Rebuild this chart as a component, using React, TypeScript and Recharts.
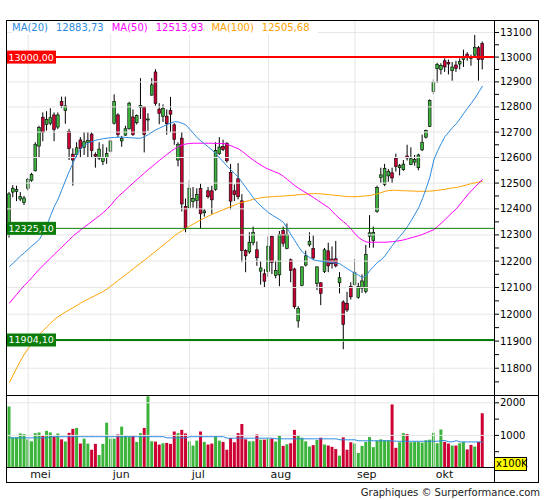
import { ComposedChart, Bar, Line, XAxis, YAxis, ReferenceLine, Cell } from 'recharts'

// daily candles, 24 apr -> 19 okt
const opens = [
  12305, 12465, 12467, 12438, 12425, 12480, 12511, 12548, 12645, 12759,
  12730, 12735, 12768, 12720, 12822, 12785, 12703, 12613, 12612, 12669,
  12640, 12660, 12692, 12612, 12597, 12585, 12600, 12625, 12735, 12768,
  12665, 12688, 12713, 12760, 12737, 12797, 12800, 12748, 12847, 12940,
  12791, 12763, 12763, 12785, 12729, 12590, 12676, 12410, 12405, 12428,
  12433, 12479, 12385, 12470, 12470, 12475, 12615, 12643, 12656, 12542,
  12470, 12517, 12431, 12240, 12235, 12270, 12243, 12162, 12152, 12160,
  12294, 12145, 12148, 12317, 12248, 12205, 12170, 11975, 12108, 12185,
  12262, 12248, 12115, 12118, 12161, 12239, 12208, 12209, 12118, 12046,
  12041, 12105, 12111, 12063, 12098, 12085, 12295, 12278, 12390, 12522,
  12495, 12528, 12540, 12597, 12560, 12552, 12606, 12572, 12582, 12560,
  12630, 12680, 12722, 12862, 12953, 12950, 12985, 12978, 12945, 12968,
  12972, 12990, 13012, 13000, 13008, 13038, 13055,
]
const highs = [
  12465, 12492, 12490, 12465, 12450, 12520, 12540, 12660, 12725, 12778,
  12783, 12795, 12778, 12778, 12841, 12841, 12713, 12636, 12660, 12680,
  12700, 12700, 12700, 12620, 12660, 12652, 12640, 12670, 12850, 12775,
  12685, 12725, 12820, 12790, 12770, 12915, 12803, 12775, 12915, 12951,
  12815, 12810, 12790, 12840, 12735, 12660, 12700, 12440, 12510, 12485,
  12480, 12498, 12400, 12485, 12490, 12660, 12680, 12670, 12660, 12575,
  12495, 12578, 12457, 12245, 12310, 12332, 12275, 12200, 12170, 12294,
  12297, 12201, 12315, 12332, 12344, 12210, 12175, 12030, 12180, 12240,
  12310, 12298, 12180, 12120, 12250, 12270, 12256, 12277, 12158, 12052,
  12084, 12120, 12208, 12118, 12150, 12262, 12376, 12332, 12490, 12560,
  12575, 12555, 12560, 12615, 12575, 12590, 12650, 12640, 12610, 12615,
  12690, 12710, 12830, 12910, 12977, 12975, 12995, 12990, 12980, 12985,
  12995, 13030, 13020, 13010, 13090, 13045, 13063,
]
const lows = [
  12290, 12445, 12430, 12430, 12415, 12472, 12505, 12545, 12600, 12664,
  12706, 12727, 12664, 12712, 12795, 12733, 12590, 12490, 12600, 12600,
  12610, 12600, 12600, 12560, 12590, 12570, 12575, 12620, 12730, 12680,
  12642, 12685, 12710, 12685, 12730, 12752, 12620, 12705, 12845, 12805,
  12731, 12740, 12690, 12700, 12650, 12565, 12390, 12310, 12398, 12405,
  12400, 12325, 12370, 12440, 12380, 12470, 12610, 12625, 12580, 12398,
  12430, 12437, 12196, 12158, 12228, 12260, 12182, 12111, 12101, 12140,
  12151, 12135, 12105, 12255, 12245, 12120, 12020, 11950, 12105, 12180,
  12255, 12205, 12090, 12034, 12155, 12158, 12172, 12176, 12078, 11870,
  12008, 12055, 12108, 12058, 12080, 12078, 12251, 12251, 12385, 12500,
  12488, 12505, 12500, 12545, 12530, 12548, 12588, 12570, 12568, 12550,
  12625, 12675, 12720, 12850, 12896, 12930, 12940, 12930, 12905, 12940,
  12950, 12960, 12985, 12965, 13000, 12905, 12950,
]
const closes = [
  12458, 12480, 12475, 12448, 12442, 12515, 12534, 12652, 12718, 12698,
  12750, 12757, 12711, 12768, 12805, 12804, 12635, 12590, 12638, 12635,
  12662, 12667, 12627, 12605, 12633, 12600, 12615, 12665, 12822, 12690,
  12675, 12713, 12815, 12690, 12765, 12806, 12691, 12752, 12888, 12814,
  12774, 12794, 12733, 12771, 12671, 12652, 12419, 12325, 12480, 12440,
  12455, 12381, 12392, 12447, 12435, 12627, 12641, 12632, 12587, 12430,
  12455, 12447, 12240, 12220, 12272, 12310, 12213, 12174, 12124, 12257,
  12195, 12165, 12302, 12268, 12302, 12165, 12028, 12022, 12178, 12220,
  12276, 12212, 12178, 12078, 12243, 12182, 12190, 12182, 12137, 11962,
  12016, 12065, 12158, 12105, 12125, 12226, 12308, 12310, 12483, 12532,
  12557, 12545, 12520, 12565, 12568, 12574, 12598, 12595, 12592, 12610,
  12660, 12706, 12826, 12900, 12971, 12966, 12960, 12972, 12960, 12955,
  12982, 12998, 13002, 12995, 13040, 12990, 12990,
]
// volume in units of 100K
const volumes = [
  1888, 940, 940, 1060, 1040, 880, 820, 1070, 1090, 1000,
  1140, 1090, 960, 1060, 880, 810, 1080, 1200, 1230, 750,
  900, 750, 560, 740, 400, 740, 1390, 900, 900, 1030,
  1270, 990, 970, 1000, 800, 1070, 1230, 2200, 820, 810,
  720, 760, 770, 740, 1120, 1070, 1170, 1060, 820, 690,
  840, 1120, 800, 720, 750, 970, 840, 800, 560, 920,
  790, 1070, 1350, 880, 820, 820, 1030, 870, 870, 890,
  900, 810, 1000, 680, 730, 760, 1170, 1000, 930, 820,
  660, 700, 860, 930, 720, 690, 650, 580, 380, 940,
  560, 790, 750, 460, 680, 800, 950, 640, 840, 880,
  850, 850, 1950, 620, 790, 1070, 1040, 790, 800, 800,
  780, 850, 870, 1080, 760, 1180, 800, 750, 690, 690,
  760, 800, 570, 710, 660, 800, 1680,
]
const volumeAvg = [
  925, 925, 925, 925, 925, 925, 925, 925, 925, 925,
  925, 960, 960, 960, 960, 960, 960, 960, 960, 960,
  960, 960, 960, 960, 960, 960, 960, 960, 960, 960,
  960, 960, 960, 960, 960, 960, 960, 960, 960, 960,
  960, 960, 925, 925, 925, 925, 925, 925, 960, 960,
  960, 960, 960, 960, 960, 960, 960, 960, 915, 915,
  915, 915, 915, 915, 915, 915, 915, 915, 915, 915,
  915, 895, 895, 895, 895, 895, 895, 895, 895, 895,
  895, 895, 895, 895, 895, 895, 895, 895, 865, 865,
  865, 865, 865, 835, 835, 835, 835, 835, 835, 835,
  835, 835, 835, 820, 820, 820, 820, 820, 820, 820,
  820, 820, 820, 820, 820, 840, 840, 805, 805, 840,
  800, 800, 800, 800, 800, 800, 800,
]
const ma20 = [
  12179, 12192, 12206, 12220, 12232, 12245, 12258, 12270, 12283, 12308,
  12338, 12375, 12410, 12438, 12475, 12512, 12548, 12580, 12612, 12635,
  12648, 12657, 12663, 12668, 12671, 12674, 12676, 12678, 12679, 12680,
  12680, 12679, 12678, 12677, 12676, 12676, 12682, 12690, 12700, 12709,
  12716, 12723, 12730, 12736, 12741, 12740, 12735, 12728, 12712, 12695,
  12678, 12665, 12653, 12641, 12629, 12614, 12598, 12582, 12566, 12551,
  12537, 12522, 12502, 12482, 12462, 12442, 12425, 12411, 12398, 12385,
  12376, 12367, 12358, 12348, 12325, 12300, 12278, 12255, 12235, 12224,
  12213, 12205, 12202, 12200, 12198, 12196, 12194, 12192, 12190, 12180,
  12171, 12162, 12154, 12146, 12138, 12145, 12165, 12180, 12195, 12205,
  12220, 12240, 12260, 12278, 12295, 12312, 12332, 12355, 12380, 12405,
  12440, 12480, 12525, 12590, 12625, 12655, 12683, 12700, 12718, 12733,
  12753, 12775, 12795, 12815, 12835, 12860, 12884,
]
const ma50 = [
  12041, 12058, 12075, 12092, 12108, 12122, 12138, 12154, 12170, 12184,
  12198, 12212, 12226, 12240, 12254, 12268, 12282, 12296, 12308, 12319,
  12330, 12341, 12352, 12363, 12374, 12386, 12399, 12414, 12432, 12448,
  12461, 12474, 12488, 12501, 12514, 12527, 12540, 12553, 12565, 12577,
  12589, 12601, 12612, 12624, 12634, 12643, 12649, 12653, 12655, 12656,
  12656, 12656, 12656, 12656, 12656, 12655, 12655, 12655, 12652, 12646,
  12640, 12634, 12624, 12612, 12600, 12589, 12579, 12570, 12561, 12554,
  12548, 12542, 12536, 12526, 12514, 12502, 12490, 12480, 12471, 12462,
  12453, 12444, 12434, 12424, 12414, 12405, 12390, 12375, 12362, 12350,
  12338, 12322, 12305, 12290, 12280, 12273, 12272, 12272, 12272, 12272,
  12272, 12273, 12274, 12276, 12278, 12281, 12285, 12289, 12293, 12297,
  12302, 12308, 12314, 12320, 12332, 12345, 12359, 12373, 12387, 12400,
  12418, 12436, 12454, 12470, 12485, 12500, 12514,
]
const ma100 = [
  11747, 11775, 11802, 11828, 11852, 11872, 11890, 11908, 11925, 11939,
  11953, 11967, 11980, 11991, 12000, 12009, 12017, 12025, 12033, 12042,
  12050, 12057, 12064, 12071, 12078, 12086, 12094, 12105, 12116, 12127,
  12138, 12149, 12160, 12171, 12182, 12193, 12204, 12215, 12227, 12238,
  12250, 12261, 12273, 12285, 12297, 12307, 12316, 12325, 12334, 12342,
  12350, 12358, 12365, 12372, 12379, 12385, 12391, 12397, 12403, 12409,
  12415, 12421, 12425, 12429, 12433, 12437, 12440, 12443, 12445, 12446,
  12447, 12448, 12449, 12450, 12451, 12452, 12453, 12455, 12456, 12457,
  12458, 12459, 12459, 12458, 12457, 12455, 12454, 12452, 12451, 12449,
  12448, 12447, 12447, 12448, 12449, 12450, 12452, 12455, 12458, 12463,
  12468, 12471, 12472, 12472, 12471, 12470, 12470, 12469, 12469, 12468,
  12468, 12468, 12469, 12470, 12472, 12474, 12476, 12479, 12481, 12483,
  12486, 12490, 12494, 12498, 12501, 12504, 12506,
]

const monthLabels = ['mei', 'jun', 'jul', 'aug', 'sep', 'okt']
const monthStarts = [5, 27, 48, 69, 92, 113]
const priceTicks = [
  11750, 11800, 11850, 11900, 11950, 12000, 12050, 12100, 12150, 12200,
  12250, 12300, 12350, 12400, 12450, 12500, 12550, 12600, 12650, 12700,
  12750, 12800, 12850, 12900, 12950, 13000, 13050, 13100,
]
const volumeTicks = [500, 1000, 1500, 2000]
const levelValues = [13000, 12325.1, 11904.1]
const levelTexts = ['13000,00', '12325,10', '11904,10']
const legendNames = ['MA(20)', 'MA(50)', 'MA(100)']
const legendValues = ['12883,73', '12513,93', '12505,68']

const FONT = 'DejaVu Sans'
const UP = '#3cb43c'
const DOWN = '#cc0033'
const GRID = '#e6e6e6'
const maColors = ['#2b8be0', '#ff00ff', '#ffa200']
const levelColors = ['#ff0000', '#0b7d0b', '#0b7d0b']
const levelWidths = [2, 1, 2]
const padX = { left: 1.5, right: 2 }

// two empty slots after the last session
const rows = Array.from({ length: opens.length + 2 }, (_, i) =>
  i < opens.length
    ? {
        i,
        open: opens[i],
        high: highs[i],
        low: lows[i],
        close: closes[i],
        vol: volumes[i],
        volAvg: volumeAvg[i],
        ma20: ma20[i],
        ma50: ma50[i],
        ma100: ma100[i],
      }
    : { i }
)

function Candle(props: any) {
  const { x, y, width, height, payload } = props
  if (payload == null || payload.open == null) return null
  const top = Math.min(y, y + height)
  const bottom = Math.max(y, y + height)
  // price axis is logarithmic
  const lh = Math.log(payload.high)
  const span = lh - Math.log(payload.low) || 1
  const toPx = (v: number) => top + ((lh - Math.log(v)) / span) * (bottom - top)
  const cx = x + width / 2
  const up = payload.close >= payload.open
  const bTop = toPx(Math.max(payload.open, payload.close))
  const bBot = toPx(Math.min(payload.open, payload.close))
  return (
    <g>
      <line x1={cx} x2={cx} y1={top} y2={bottom} stroke="#000" strokeWidth={1} />
      <rect
        x={cx - 1.4}
        y={bTop}
        width={2.8}
        height={Math.max(bBot - bTop, 0.8)}
        fill={up ? UP : DOWN}
        stroke="#000"
        strokeWidth={0.6}
      />
    </g>
  )
}

function LevelTag(props: any) {
  const { viewBox, text, color } = props
  if (!viewBox) return null
  return (
    <g>
      <rect x={viewBox.x} y={viewBox.y - 6.5} width={50} height={13} fill={color} />
      <text x={viewBox.x + 2.5} y={viewBox.y} dy="0.36em" fill="#fff" fontSize={9.5} fontFamily={FONT}>
        {text}
      </text>
    </g>
  )
}

function MonthTick(props: any) {
  const { x, y, payload } = props
  const k = monthStarts.indexOf(payload.value)
  return (
    <text x={x + 2} y={y + 9.5} fontSize={11} fontFamily={FONT} fill="#111" textAnchor="start">
      {monthLabels[k]}
    </text>
  )
}

const tickStyle = { fill: '#000', fontSize: 10, fontFamily: FONT }

export default function App() {
  return (
    <div style={{ position: 'absolute', left: 0, top: 0, width: 545, height: 500, background: '#fff', fontFamily: FONT }}>
      <div style={{ position: 'absolute', left: 0, top: 0 }}>
        <ComposedChart width={545} height={396} data={rows} margin={{ top: 20, right: 0, bottom: 1, left: 6 }}>
          <XAxis dataKey="i" type="category" hide padding={padX} />
          <YAxis
            orientation="right"
            width={51}
            scale="log"
            domain={[11702, 13151]}
            allowDataOverflow
            ticks={priceTicks}
            interval={0}
            tickFormatter={(v) => (v % 100 === 0 ? String(v) : '')}
            tick={tickStyle}
            tickSize={5}
            tickMargin={1}
            tickLine={{ stroke: '#000' }}
            axisLine={false}
          />
          {priceTicks
            .filter((v) => v % 100 === 0)
            .map((v) => (
              <ReferenceLine key={'h' + v} y={v} stroke={GRID} strokeWidth={1} />
            ))}
          {monthStarts.map((m) => (
            <ReferenceLine key={'v' + m} x={m} stroke={GRID} strokeWidth={1} />
          ))}
          <Line dataKey="ma100" stroke={maColors[2]} strokeWidth={1} dot={false} activeDot={false} isAnimationActive={false} />
          <Line dataKey="ma50" stroke={maColors[1]} strokeWidth={1} dot={false} activeDot={false} isAnimationActive={false} />
          <Line dataKey="ma20" stroke={maColors[0]} strokeWidth={1} dot={false} activeDot={false} isAnimationActive={false} />
          {levelValues.map((v, k) => (
            <ReferenceLine
              key={'l' + v}
              y={v}
              stroke={levelColors[k]}
              strokeWidth={levelWidths[k]}
              label={<LevelTag text={levelTexts[k]} color={levelColors[k]} />}
            />
          ))}
          <Bar
            dataKey={(d: any) => (d.open == null ? undefined : [d.low, d.high])}
            barSize={3}
            shape={(p: any) => <Candle {...p} />}
            isAnimationActive={false}
          />
        </ComposedChart>
      </div>

      <div style={{ position: 'absolute', left: 0, top: 395 }}>
        <ComposedChart width={545} height={88} data={rows} margin={{ top: 0, right: 0, bottom: 0, left: 6 }}>
          <XAxis
            dataKey="i"
            type="category"
            height={15}
            padding={padX}
            ticks={monthStarts}
            interval={0}
            tick={<MonthTick />}
            tickLine={false}
            tickSize={0}
            tickMargin={0}
            axisLine={false}
          />
          <YAxis
            orientation="right"
            width={51}
            domain={[0, 2240]}
            allowDataOverflow
            ticks={volumeTicks}
            interval={0}
            tickFormatter={(v) => (v % 1000 === 0 ? String(v) : '')}
            tick={tickStyle}
            tickSize={5}
            tickMargin={1}
            tickLine={{ stroke: '#000' }}
            axisLine={false}
          />
          {[1000, 2000].map((v) => (
            <ReferenceLine key={'vh' + v} y={v} stroke={GRID} strokeWidth={1} />
          ))}
          {monthStarts.map((m) => (
            <ReferenceLine key={'vv' + m} x={m} stroke={GRID} strokeWidth={1} />
          ))}
          <Bar dataKey="vol" barSize={3} isAnimationActive={false}>
            {rows.map((r: any) => (
              <Cell key={r.i} fill={r.close >= r.open ? UP : DOWN} />
            ))}
          </Bar>
          <Line dataKey="volAvg" stroke={maColors[0]} strokeWidth={1} dot={false} activeDot={false} isAnimationActive={false} />
        </ComposedChart>
      </div>

      {/* frame */}
      <div style={{ position: 'absolute', left: 6, top: 20, width: 533, height: 463, border: '1px solid #000', boxSizing: 'border-box' }} />
      <div style={{ position: 'absolute', left: 6, top: 395, width: 533, height: 1, background: '#000' }} />
      <div style={{ position: 'absolute', left: 6, top: 467, width: 488, height: 1, background: '#000' }} />
      <div style={{ position: 'absolute', left: 494, top: 20, width: 1, height: 463, background: '#000' }} />

      <div style={{ position: 'absolute', left: 12, top: 21, fontSize: 10, lineHeight: '13px', whiteSpace: 'nowrap', background: '#fff' }}>
        {legendNames.map((n, k) => (
          <span key={n} style={{ color: maColors[k] }}>
            <span style={{ marginRight: 8 }}>{n}</span>
            <span style={{ marginRight: 8 }}>{legendValues[k]}</span>
          </span>
        ))}
      </div>

      <div
        style={{
          position: 'absolute',
          left: 494,
          top: 457,
          width: 33,
          height: 14,
          background: '#ffff00',
          border: '1px solid #000',
          boxSizing: 'border-box',
          fontSize: 10,
          lineHeight: '12px',
          paddingLeft: 1,
          color: '#000',
        }}
      >
        x100K
      </div>

      <div style={{ position: 'absolute', right: 5, top: 486, fontSize: 10, lineHeight: '13px', color: '#222', whiteSpace: 'nowrap' }}>
        Graphiques © Surperformance.com
      </div>
    </div>
  )
}
